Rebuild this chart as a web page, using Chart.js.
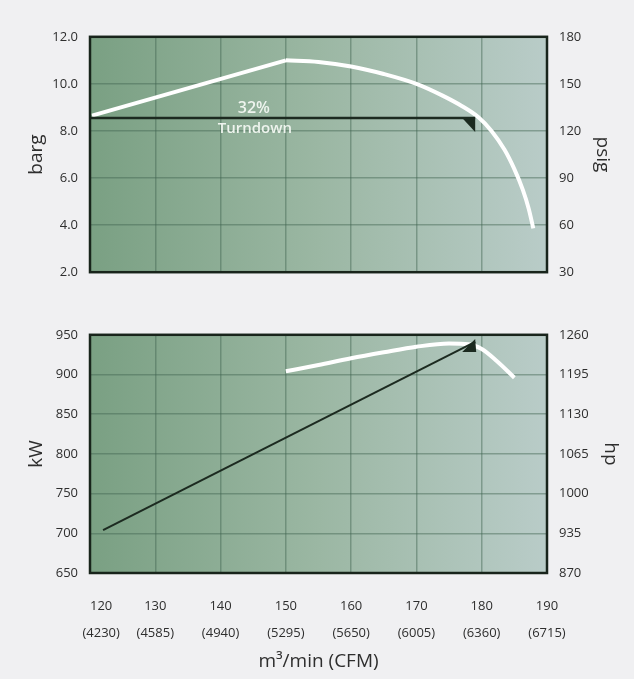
<!DOCTYPE html>
<html><head><meta charset="utf-8">
<script src="https://cdn.jsdelivr.net/npm/chart.js@4/dist/chart.umd.min.js"></script>
<style>
html,body{margin:0;padding:0;background:#f0f0f2;width:634px;height:679px;overflow:hidden}
.box{position:absolute;left:0;width:634px}
#top{top:17px;height:275px}
#bot{top:315px;height:364px}
</style></head><body>
<div class="box" id="top"><canvas id="c1"></canvas></div>
<div class="box" id="bot"><canvas id="c2"></canvas></div>
<script>
// ---- data ----
const flowTicks = [120, 130, 140, 150, 160, 170, 180, 190];
const cfmTicks = [4230, 4585, 4940, 5295, 5650, 6005, 6360, 6715];
const bargTicks = [2, 4, 6, 8, 10, 12];
const psigTicks = [30, 60, 90, 120, 150, 180];
const kwTicks = [650, 700, 750, 800, 850, 900, 950];
const hpTicks = [870, 935, 1000, 1065, 1130, 1195, 1260];

const pressRampX = [120.3, 150];
const pressRampY = [8.65, 11.0];
const pressCurveX = [150, 155, 160, 165, 170, 174, 177, 179.5, 181.5, 183.5, 185, 186.3, 187.2, 187.9];
const pressCurveY = [11.0, 10.93, 10.74, 10.42, 10.0, 9.5, 9.05, 8.58, 8.0, 7.2, 6.38, 5.5, 4.7, 3.86];
const turndownX = [120, 179.0];
const turndownY = [8.55, 8.55];
const turndownLabel = ["32%", "Turndown"];

const powerX = [150, 155, 160, 165, 170, 175, 178, 180, 182.3, 185];
const powerY = [904, 912, 920.5, 928, 935, 939, 938, 932, 917, 896];
const powerLineX = [122, 179.0];
const powerLineY = [704, 941];

const pts = (xs, ys) => xs.map((x, i) => ({x, y: ys[i]}));

Chart.defaults.font.family = "'Open Sans', sans-serif";
Chart.defaults.color = '#2e2e2e';

const LEFT_W = 90, RIGHT_W = 87;

const bgPlugin = {
  id: 'bg',
  beforeDraw(chart) {
    const {ctx, chartArea: a} = chart;
    const g = ctx.createLinearGradient(a.left, 0, a.right, 0);
    g.addColorStop(0, '#7aa083');
    g.addColorStop(0.5, '#9bb7a3');
    g.addColorStop(1, '#b9ccc8');
    ctx.save();
    ctx.fillStyle = g;
    ctx.fillRect(a.left, a.top, a.right - a.left, a.bottom - a.top);
    ctx.restore();
  },
  afterDraw(chart) {
    const {ctx, chartArea: a} = chart;
    ctx.save();
    ctx.strokeStyle = '#18241b';
    ctx.lineWidth = 2.5;
    ctx.strokeRect(a.left, a.top, a.right - a.left, a.bottom - a.top);
    ctx.restore();
  }
};

function arrowPlugin(id, xs, ys, offs, label) {
  return {
    id,
    afterDatasetsDraw(chart) {
      const {ctx} = chart;
      const sx = chart.scales.x, sy = chart.scales.y;
      const px = sx.getPixelForValue(xs[xs.length - 1]);
      const py = sy.getPixelForValue(ys[ys.length - 1]);
      ctx.save();
      ctx.fillStyle = '#1c2a20';
      ctx.beginPath();
      ctx.moveTo(px + offs[0][0], py + offs[0][1]);
      for (let i = 1; i < offs.length; i++) ctx.lineTo(px + offs[i][0], py + offs[i][1]);
      ctx.closePath();
      ctx.fill();
      if (label) {
        const lx = sx.getPixelForValue(145.1);
        const ly = sy.getPixelForValue(ys[0]);
        ctx.fillStyle = '#eef4ee';
        ctx.textAlign = 'center';
        ctx.textBaseline = 'middle';
        ctx.font = "600 16px 'Open Sans', sans-serif";
        ctx.fillText(label[0], lx, ly - 10);
        ctx.font = "600 15px 'Open Sans', sans-serif";
        ctx.fillText(label[1], lx + 1, ly + 11);
      }
      ctx.restore();
    }
  };
}

const gridCol = 'rgba(65,100,80,0.45)';

function yAxis(pos, min, max, step, title, fmt, titlePad, grid) {
  return {
    type: 'linear', position: pos, min, max,
    afterFit(s) { s.width = pos === 'left' ? LEFT_W : RIGHT_W; },
    ticks: { stepSize: step, padding: 12, font: {size: 13}, callback: fmt },
    grid: { display: grid, color: gridCol, lineWidth: 1.5, drawTicks: false },
    border: { display: false },
    title: { display: true, text: title, font: {size: 19}, padding: {top: titlePad, bottom: 0} }
  };
}

new Chart(document.getElementById('c1'), {
  type: 'scatter',
  data: { datasets: [
    { data: pts(turndownX, turndownY), showLine: true, borderColor: '#1c2a20', borderWidth: 2.5, pointRadius: 0 },
    { data: pts(pressRampX, pressRampY), showLine: true, borderColor: '#ffffff', borderWidth: 4, pointRadius: 0 },
    { data: pts(pressCurveX, pressCurveY), showLine: true, borderColor: '#ffffff', borderWidth: 4, pointRadius: 0, cubicInterpolationMode: 'monotone' }
  ]},
  options: {
    responsive: true, maintainAspectRatio: false, animation: false, devicePixelRatio: 1,
    layout: { padding: {top: 10, bottom: 14, left: 0, right: 0} },
    plugins: { legend: {display: false}, tooltip: {enabled: false} },
    scales: {
      x: { type: 'linear', min: flowTicks[0], max: flowTicks[flowTicks.length - 1],
           afterFit(s) { s.height = 0; },
           ticks: { stepSize: 10, display: false },
           grid: { color: gridCol, lineWidth: 1.5, drawTicks: false }, border: {display: false} },
      y: yAxis('left', bargTicks[0], bargTicks[bargTicks.length - 1], 2, 'barg', v => v.toFixed(1), 25.6, true),
      y2: yAxis('right', psigTicks[0], psigTicks[psigTicks.length - 1], 30, 'psig', v => v, 20.6, false)
    }
  },
  plugins: [bgPlugin, arrowPlugin('arr1', turndownX, turndownY, [[-13, 0], [0, 0], [0, 14]], turndownLabel)]
});

new Chart(document.getElementById('c2'), {
  type: 'scatter',
  data: { datasets: [
    { data: pts(powerLineX, powerLineY), showLine: true, borderColor: '#1c2a20', borderWidth: 2, pointRadius: 0 },
    { data: pts(powerX, powerY), showLine: true, borderColor: '#ffffff', borderWidth: 4, pointRadius: 0, cubicInterpolationMode: 'monotone' }
  ]},
  options: {
    responsive: true, maintainAspectRatio: false, animation: false, devicePixelRatio: 1,
    layout: { padding: {top: 10, bottom: 0, left: 0, right: 0} },
    plugins: { legend: {display: false}, tooltip: {enabled: false} },
    scales: {
      x: { type: 'linear', min: flowTicks[0], max: flowTicks[flowTicks.length - 1],
           afterFit(s) { s.height = 106; },
           afterBuildTicks(s) { s.ticks = flowTicks.map(v => ({value: v})); },
           ticks: { padding: 19.5, font: {size: 13, lineHeight: 2.1}, maxRotation: 0, autoSkip: false,
             callback: (v, i) => {
               const k = flowTicks.indexOf(v);
               const pad = k === 0 ? '\u2007\u2007\u2007' : '';
               return [pad + v, pad + '(' + cfmTicks[k] + ')'];
             } },
           grid: { color: gridCol, lineWidth: 1.5, drawTicks: false }, border: {display: false},
           title: { display: true, text: 'm³/min (CFM)', font: {size: 19}, padding: {top: 0, bottom: 5.6} } },
      y: yAxis('left', kwTicks[0], kwTicks[kwTicks.length - 1], 50, 'kW', v => v, 25.6, true),
      y2: yAxis('right', hpTicks[0], hpTicks[hpTicks.length - 1], 65, 'hp', v => v, 12.6, false)
    }
  },
  plugins: [bgPlugin, arrowPlugin('arr2', powerLineX, powerLineY, [[0, -3], [1, 10], [-13, 10]], null)]
});
</script>
</body></html>
